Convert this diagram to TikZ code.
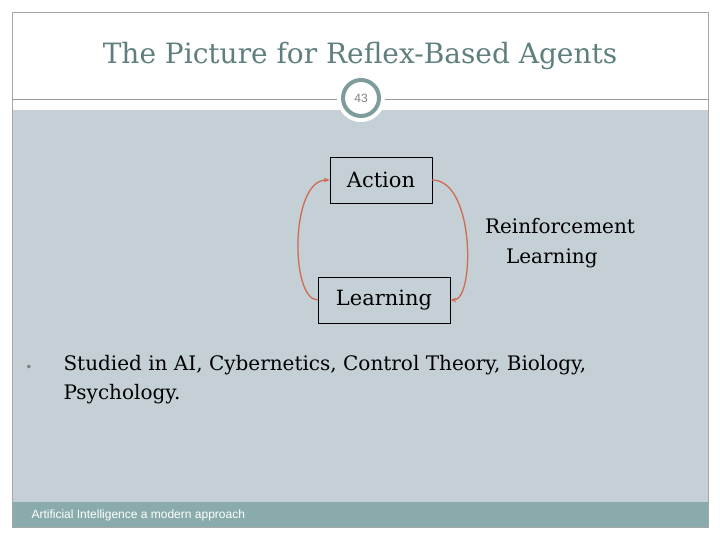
\documentclass[tikz,border=0pt]{standalone}
\usepackage{fontspec}
\setmainfont{DejaVu Serif}
\setsansfont{Liberation Sans}
\usepackage{xcolor}
\usetikzlibrary{arrows.meta,positioning}
\definecolor{slidebg}{HTML}{C5D0D6}
\definecolor{footbg}{HTML}{8AABAB}
\definecolor{ringcol}{HTML}{7E9C9C}
\definecolor{titlecol}{HTML}{5F7F7F}
\definecolor{arrcol}{HTML}{D06A50}

\begin{document}
\begin{tikzpicture}[
  x=1pt, y=-1pt,
  box/.style={draw, thin, inner sep=0pt, font=\fontsize{21}{26}\selectfont},
  lbl/.style={font=\fontsize{20}{30}\selectfont, align=left},
  arr/.style={-{Stealth[length=6pt]}, line width=1.3pt, arrcol}
]
  \useasboundingbox (0,0) rectangle (720,540);
  \fill[white] (0,0) rectangle (720,540);
  \fill[slidebg] (12,110) rectangle (708,502);
  \fill[footbg] (12,502) rectangle (708,527);
  \draw[gray!70] (12,12) rectangle (708,527);
  \draw[gray!80] (12,99) -- (708,99);

  \node[font=\fontsize{28}{32}\selectfont, text=titlecol] (title) at (360,56) {The Picture for Reflex-Based Agents};
  \node[circle, fill=white, minimum size=48pt] (ringbg) at (361,98) {};
  \node[circle, draw=ringcol, line width=4pt, fill=white, minimum size=36pt,
        font=\sffamily\fontsize{12}{12}\selectfont, text=gray] (page) at (361,98) {43};

  \node[box, minimum width=102pt, minimum height=46pt] (act) at (381,180) {Action};
  \node[box, minimum width=132pt, minimum height=46pt] (learn) at (384,300) {Learning};
  \node[lbl] (rl) at (560,243) {Reinforcement\\\hspace*{21pt}Learning};

  \draw[arr] (learn.west) .. controls (290,300) and (290,180) .. (act.west);
  \draw[arr] (act.east) .. controls (475,180) and (475,300) .. (learn.east);

  \node[font=\fontsize{12}{12}\selectfont, text=gray] (bul) at (29,368) {\textbullet};
  \node[lbl, anchor=north west, font=\fontsize{20}{29}\selectfont] (body) at (60,352)
    {Studied in AI, Cybernetics, Control Theory, Biology,\\Psychology.};
  \node[anchor=west, text=white, font=\sffamily\fontsize{12}{12}\selectfont] (foot) at (28,515)
    {Artificial Intelligence a modern approach};
\end{tikzpicture}
\end{document}
